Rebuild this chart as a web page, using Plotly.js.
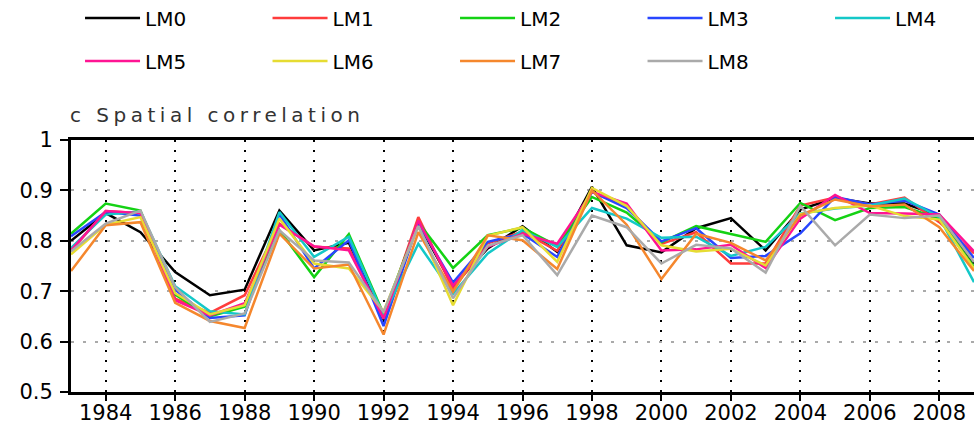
<!DOCTYPE html>
<html>
<head>
<meta charset="utf-8">
<script src="https://cdn.plot.ly/plotly-3.0.1.min.js"></script>
<style>
  html, body { margin: 0; padding: 0; background: #fff; }
  #chart { width: 974px; height: 425px; }
  .annotation-text { letter-spacing: 4.5px; }
</style>
</head>
<body>
<div id="chart"></div>
<script>
const years = [1983,1984,1985,1986,1987,1988,1989,1990,1991,1992,1993,1994,1995,1996,1997,1998,1999,2000,2001,2002,2003,2004,2005,2006,2007,2008,2009];

const seriesNames = ["LM0","LM1","LM2","LM3","LM4","LM5","LM6","LM7","LM8"];
const seriesColors = ["#000000","#ff3c3c","#14d214","#2846ff","#14c8c8","#ff1493","#e6dc32","#f5872d","#aaaaaa"];

const LM0 = [0.800,0.855,0.817,0.738,0.692,0.703,0.860,0.781,0.796,0.643,0.835,0.710,0.785,0.829,0.778,0.907,0.791,0.777,0.825,0.845,0.781,0.862,0.885,0.874,0.874,0.850,0.755];
const LM1 = [0.780,0.859,0.855,0.685,0.657,0.692,0.834,0.788,0.785,0.645,0.847,0.704,0.795,0.818,0.780,0.897,0.868,0.794,0.817,0.755,0.755,0.870,0.886,0.872,0.886,0.837,0.775];
const LM2 = [0.814,0.874,0.860,0.693,0.650,0.669,0.821,0.728,0.813,0.655,0.837,0.746,0.811,0.826,0.790,0.887,0.856,0.797,0.829,0.814,0.798,0.875,0.841,0.865,0.867,0.844,0.748];
const LM3 = [0.809,0.857,0.850,0.703,0.647,0.652,0.853,0.745,0.801,0.631,0.835,0.717,0.798,0.814,0.768,0.897,0.865,0.799,0.825,0.766,0.770,0.815,0.887,0.872,0.880,0.852,0.766];
const LM4 = [0.786,0.852,0.858,0.710,0.660,0.654,0.857,0.768,0.808,0.652,0.794,0.695,0.775,0.821,0.788,0.865,0.844,0.806,0.808,0.770,0.788,0.854,0.864,0.870,0.884,0.847,0.718];
const LM5 = [0.781,0.859,0.855,0.682,0.652,0.676,0.832,0.789,0.781,0.646,0.840,0.711,0.788,0.814,0.794,0.897,0.874,0.781,0.783,0.792,0.746,0.844,0.891,0.855,0.854,0.852,0.779];
const LM6 = [0.773,0.832,0.847,0.696,0.654,0.672,0.844,0.755,0.745,0.660,0.829,0.672,0.810,0.827,0.758,0.905,0.869,0.791,0.779,0.784,0.751,0.853,0.865,0.870,0.849,0.842,0.745];
const LM7 = [0.740,0.831,0.837,0.677,0.641,0.627,0.814,0.745,0.753,0.614,0.817,0.699,0.811,0.801,0.744,0.900,0.832,0.724,0.814,0.796,0.761,0.850,0.882,0.868,0.872,0.827,0.740];
const LM8 = [0.779,0.834,0.860,0.708,0.639,0.656,0.821,0.761,0.757,0.659,0.829,0.686,0.790,0.811,0.732,0.850,0.827,0.755,0.792,0.785,0.737,0.869,0.791,0.852,0.845,0.850,0.758];

const xTickVals = [1984,1986,1988,1990,1992,1994,1996,1998,2000,2002,2004,2006,2008];
const yTickVals = [0.5,0.6,0.7,0.8,0.9,1];
const titleText = "c Spatial correlation";

const allSeries = [LM0,LM1,LM2,LM3,LM4,LM5,LM6,LM7,LM8];
const traces = allSeries.map((vals, i) => {
  const t = {
    type: "scatter",
    mode: "lines",
    x: years,
    y: vals,
    name: seriesNames[i],
    line: { color: seriesColors[i], width: 2.5 },
    legend: i < 5 ? "legend" : "legend2",
    legendrank: i
  };
  if (i === 4) t.legendwidth = 50;
  return t;
});

const legendCommon = {
  orientation: "h",
  xanchor: "left",
  yanchor: "middle",
  x: 0.01,
  entrywidth: 117.5,
  entrywidthmode: "pixels",
  itemwidth: 55,
  font: { family: "DejaVu Sans", size: 20, color: "#000" },
  bgcolor: "rgba(0,0,0,0)",
  traceorder: "normal",
  itemclick: false,
  itemdoubleclick: false
};

const layout = {
  width: 974,
  height: 425,
  margin: { l: 71, r: 0, t: 140, b: 33, pad: 0, autoexpand: false },
  paper_bgcolor: "#ffffff",
  plot_bgcolor: "#ffffff",
  showlegend: true,
  legend: Object.assign({}, legendCommon, { y: 1.484 }),
  legend2: Object.assign({}, legendCommon, { y: 1.313 }),
  xaxis: {
    range: [1983, 2009],
    tickmode: "array",
    tickvals: xTickVals,
    ticks: "outside",
    ticklen: 6,
    tickwidth: 2,
    tickcolor: "#000",
    ticklabelstandoff: -6,
    showline: true,
    linewidth: 3,
    linecolor: "#000",
    mirror: true,
    showgrid: true,
    gridcolor: "#000",
    gridwidth: 2,
    griddash: "2px,8px",
    zeroline: false,
    automargin: false,
    tickfont: { family: "DejaVu Sans", size: 21, color: "#000" }
  },
  yaxis: {
    range: [0.5, 1],
    tickmode: "array",
    tickvals: yTickVals,
    ticks: "outside",
    ticklen: 8,
    tickwidth: 2,
    tickcolor: "#000",
    ticklabelstandoff: 3,
    showline: true,
    linewidth: 3,
    linecolor: "#000",
    mirror: true,
    showgrid: true,
    gridcolor: "#aaaaaa",
    gridwidth: 2,
    griddash: "3px,9px",
    zeroline: false,
    automargin: false,
    tickfont: { family: "DejaVu Sans", size: 21, color: "#000" }
  },
  annotations: [{
    text: titleText,
    xref: "paper", yref: "paper",
    x: -0.003, y: 1.099,
    xanchor: "left", yanchor: "middle",
    showarrow: false,
    font: { family: "DejaVu Sans", size: 20, color: "#333" }
  }]
};

Plotly.newPlot("chart", traces, layout, { displayModeBar: false, staticPlot: true });
</script>
</body>
</html>
